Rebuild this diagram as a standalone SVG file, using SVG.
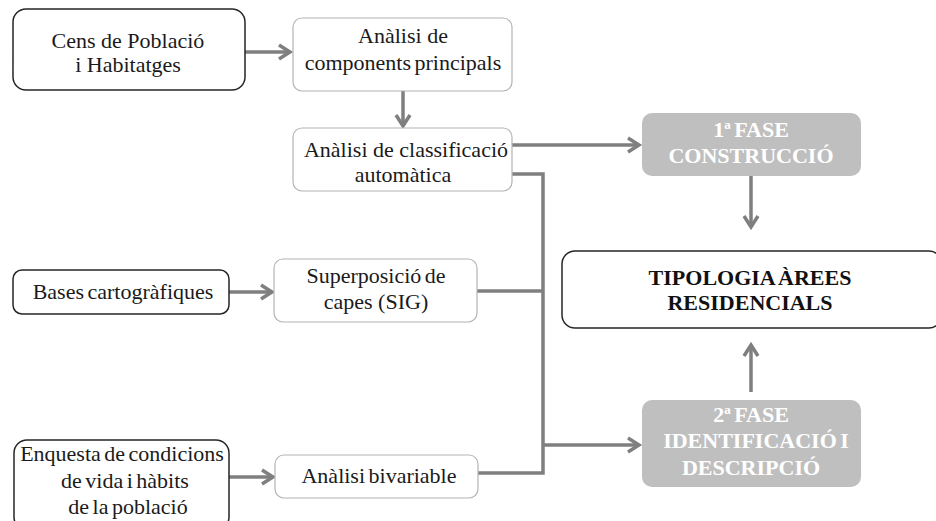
<svg xmlns="http://www.w3.org/2000/svg" width="936" height="521" viewBox="0 0 936 521" font-family="'Liberation Serif', Tinos, 'Times New Roman', serif">
<defs>
<marker id="ah" markerUnits="userSpaceOnUse" markerWidth="20" markerHeight="20" refX="12" refY="8" orient="auto" overflow="visible">
<path d="M1,1 L12,8 L1,15" fill="none" stroke="#7f7f7f" stroke-width="3.5" stroke-linejoin="miter"/>
</marker>
</defs>
<style>
text{font-size:22px;fill:#1a1a1a;text-anchor:middle}
.dark{fill:#fff;stroke:#262626;stroke-width:1.5}
.light{fill:#fff;stroke:#b4b4b4;stroke-width:1.2}
.phase{fill:#bfbfbf;stroke:none}
.ph{fill:#fff;font-weight:bold}
.tb{font-weight:bold;fill:#111}
.ws{word-spacing:-2px}
.c{fill:none;stroke:#7f7f7f;stroke-width:3.5}
</style>
<rect width="936" height="521" fill="#fff"/>
<g id="connectors">
<line class="c" x1="245" y1="52" x2="290" y2="52" marker-end="url(#ah)"/>
<line class="c" x1="403" y1="91" x2="403" y2="126" marker-end="url(#ah)"/>
<line class="c" x1="512" y1="145" x2="639" y2="145" marker-end="url(#ah)"/>
<polyline class="c" points="512,174 543,174 543,473 478,473"/>
<line class="c" x1="477" y1="291" x2="543" y2="291"/>
<line class="c" x1="543" y1="445" x2="639" y2="445" marker-end="url(#ah)"/>
<line class="c" x1="229" y1="292" x2="272" y2="292" marker-end="url(#ah)"/>
<line class="c" x1="229" y1="477" x2="273" y2="477" marker-end="url(#ah)"/>
<line class="c" x1="751" y1="176" x2="751" y2="227" marker-end="url(#ah)"/>
<line class="c" x1="751" y1="392" x2="751" y2="345" marker-end="url(#ah)"/>
</g>
<g id="cens">
<rect class="dark" x="13" y="9" width="232" height="81" rx="13"/>
<text x="128" y="48">Cens de Població</text>
<text x="128" y="72">i Habitatges</text>
</g>
<g id="components">
<rect class="light" x="293" y="18" width="219" height="73" rx="9"/>
<text x="403" y="43">Anàlisi de</text>
<text class="ws" x="403" y="70">components principals</text>
</g>
<g id="classificacio">
<rect class="light" x="293" y="128" width="219" height="63" rx="9"/>
<text x="406" y="157">Anàlisi de classificació</text>
<text x="403" y="182">automàtica</text>
</g>
<g id="bases">
<rect class="dark" x="13" y="270" width="216" height="44" rx="9"/>
<text class="ws" x="123" y="299">Bases cartogràfiques</text>
</g>
<g id="superposicio">
<rect class="light" x="274" y="259" width="203" height="63" rx="9"/>
<text class="ws" x="376" y="283">Superposició de</text>
<text x="376" y="309">capes (SIG)</text>
</g>
<g id="enquesta">
<rect class="dark" x="14" y="440" width="215" height="90" rx="13"/>
<text class="ws" x="122" y="461">Enquesta de condicions</text>
<text class="ws" x="125" y="488">de vida i hàbits</text>
<text class="ws" x="128" y="514">de la població</text>
</g>
<g id="bivariable">
<rect class="light" x="275" y="455" width="203" height="43" rx="9"/>
<text class="ws" x="379" y="483">Anàlisi bivariable</text>
</g>
<g id="fase1">
<rect class="phase" x="642" y="113" width="219" height="63" rx="10"/>
<text class="ph ws" x="751" y="137">1ª FASE</text>
<text class="ph" x="751" y="163">CONSTRUCCIÓ</text>
</g>
<g id="tipologia">
<rect class="dark" x="562" y="251" width="380" height="77" rx="13"/>
<text class="tb ws" x="750" y="285">TIPOLOGIA ÀREES</text>
<text class="tb" x="750" y="310">RESIDENCIALS</text>
</g>
<g id="fase2">
<rect class="phase" x="642" y="400" width="219" height="87" rx="10"/>
<text class="ph ws" x="751" y="422">2ª FASE</text>
<text class="ph ws" x="756" y="448">IDENTIFICACIÓ I</text>
<text class="ph" x="751" y="475">DESCRIPCIÓ</text>
</g>
</svg>
